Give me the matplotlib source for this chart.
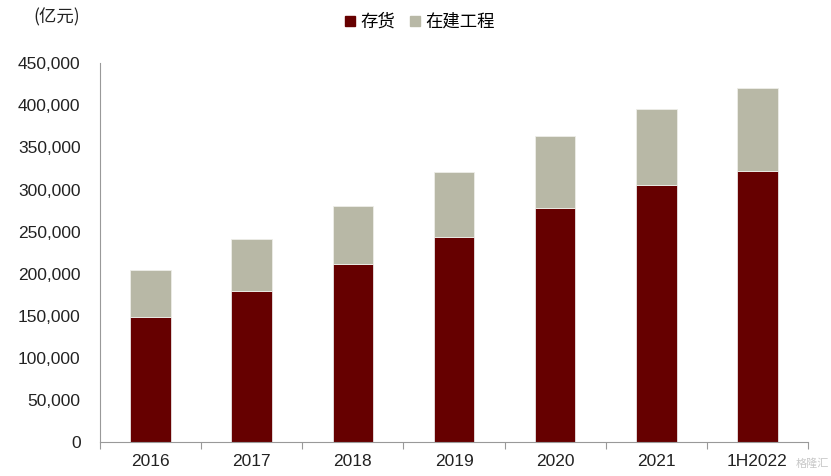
import matplotlib
matplotlib.use("Agg")
import matplotlib.pyplot as plt
from matplotlib.ticker import FuncFormatter, FixedLocator
from matplotlib.patches import Patch
import numpy as np

plt.rcParams['font.family'] = ['Liberation Sans', 'Noto Sans CJK SC', 'DejaVu Sans']

categories = ["2016", "2017", "2018", "2019", "2020", "2021", "1H2022"]
inventory = [148500, 179400, 211500, 243600, 278400, 305700, 322000]
construction = [56000, 62000, 69000, 77000, 85000, 90000, 99000]
yticks = [0, 50000, 100000, 150000, 200000, 250000, 300000, 350000, 400000, 450000]

c_inv = "#660000"
c_con = "#B8B8A6"

fig = plt.figure(figsize=(8.31, 4.76), dpi=100)
ax = fig.add_axes([100/831, 34/476, 708/831, 378.7/476])

x = np.arange(len(categories))
ax.bar(x, inventory, width=0.4, color=c_inv, edgecolor="#e8e4e4", linewidth=0.6)
ax.bar(x, construction, width=0.4, bottom=inventory, color=c_con, edgecolor="#eeeee8", linewidth=0.6)

ax.set_xlim(-0.5, len(categories) - 0.5)
ax.set_ylim(0, 450000)
ax.set_yticks(yticks)
ax.yaxis.set_major_formatter(FuncFormatter(lambda v, p: f"{int(v):,}"))
ax.tick_params(axis='y', length=0, pad=14, labelsize=12.5, labelcolor="#222222")

ax.xaxis.set_major_locator(FixedLocator(np.arange(-0.5, len(categories), 1.0)))
ax.xaxis.set_major_formatter(FuncFormatter(lambda v, p: ""))
ax.xaxis.set_minor_locator(FixedLocator(x))
ax.set_xticklabels(categories, minor=True)
ax.tick_params(axis='x', which='major', length=5, color="#999999", direction='out')
ax.tick_params(axis='x', which='minor', length=0, pad=9, labelsize=12.5, labelcolor="#222222")

for s in ['top', 'right']:
    ax.spines[s].set_visible(False)
ax.spines['left'].set_color("#999999")
ax.spines['bottom'].set_color("#999999")

fig.text(33/831, 1 - 17/476, "(亿元)", fontsize=12.5, color="#222222", va='center', ha='left',
         family=['Noto Sans CJK SC', 'DejaVu Sans'])

handles = [Patch(color=c_inv, label="存货"), Patch(color=c_con, label="在建工程")]
leg = fig.legend(handles=handles, loc='center', bbox_to_anchor=(420/831, 1 - 22/476), ncol=2,
                 frameon=False, handlelength=0.55, handleheight=0.55,
                 handletextpad=0.3, columnspacing=0.9,
                 prop={'family': ['Noto Sans CJK SC', 'DejaVu Sans'], 'size': 12.5})

fig.text(829/831, 1 - 464/476, "格隆汇", fontsize=8, color="#c8c8c8", ha='right', va='center',
         family=['Noto Sans CJK SC', 'DejaVu Sans'])

fig.savefig("out.png", dpi=100)
